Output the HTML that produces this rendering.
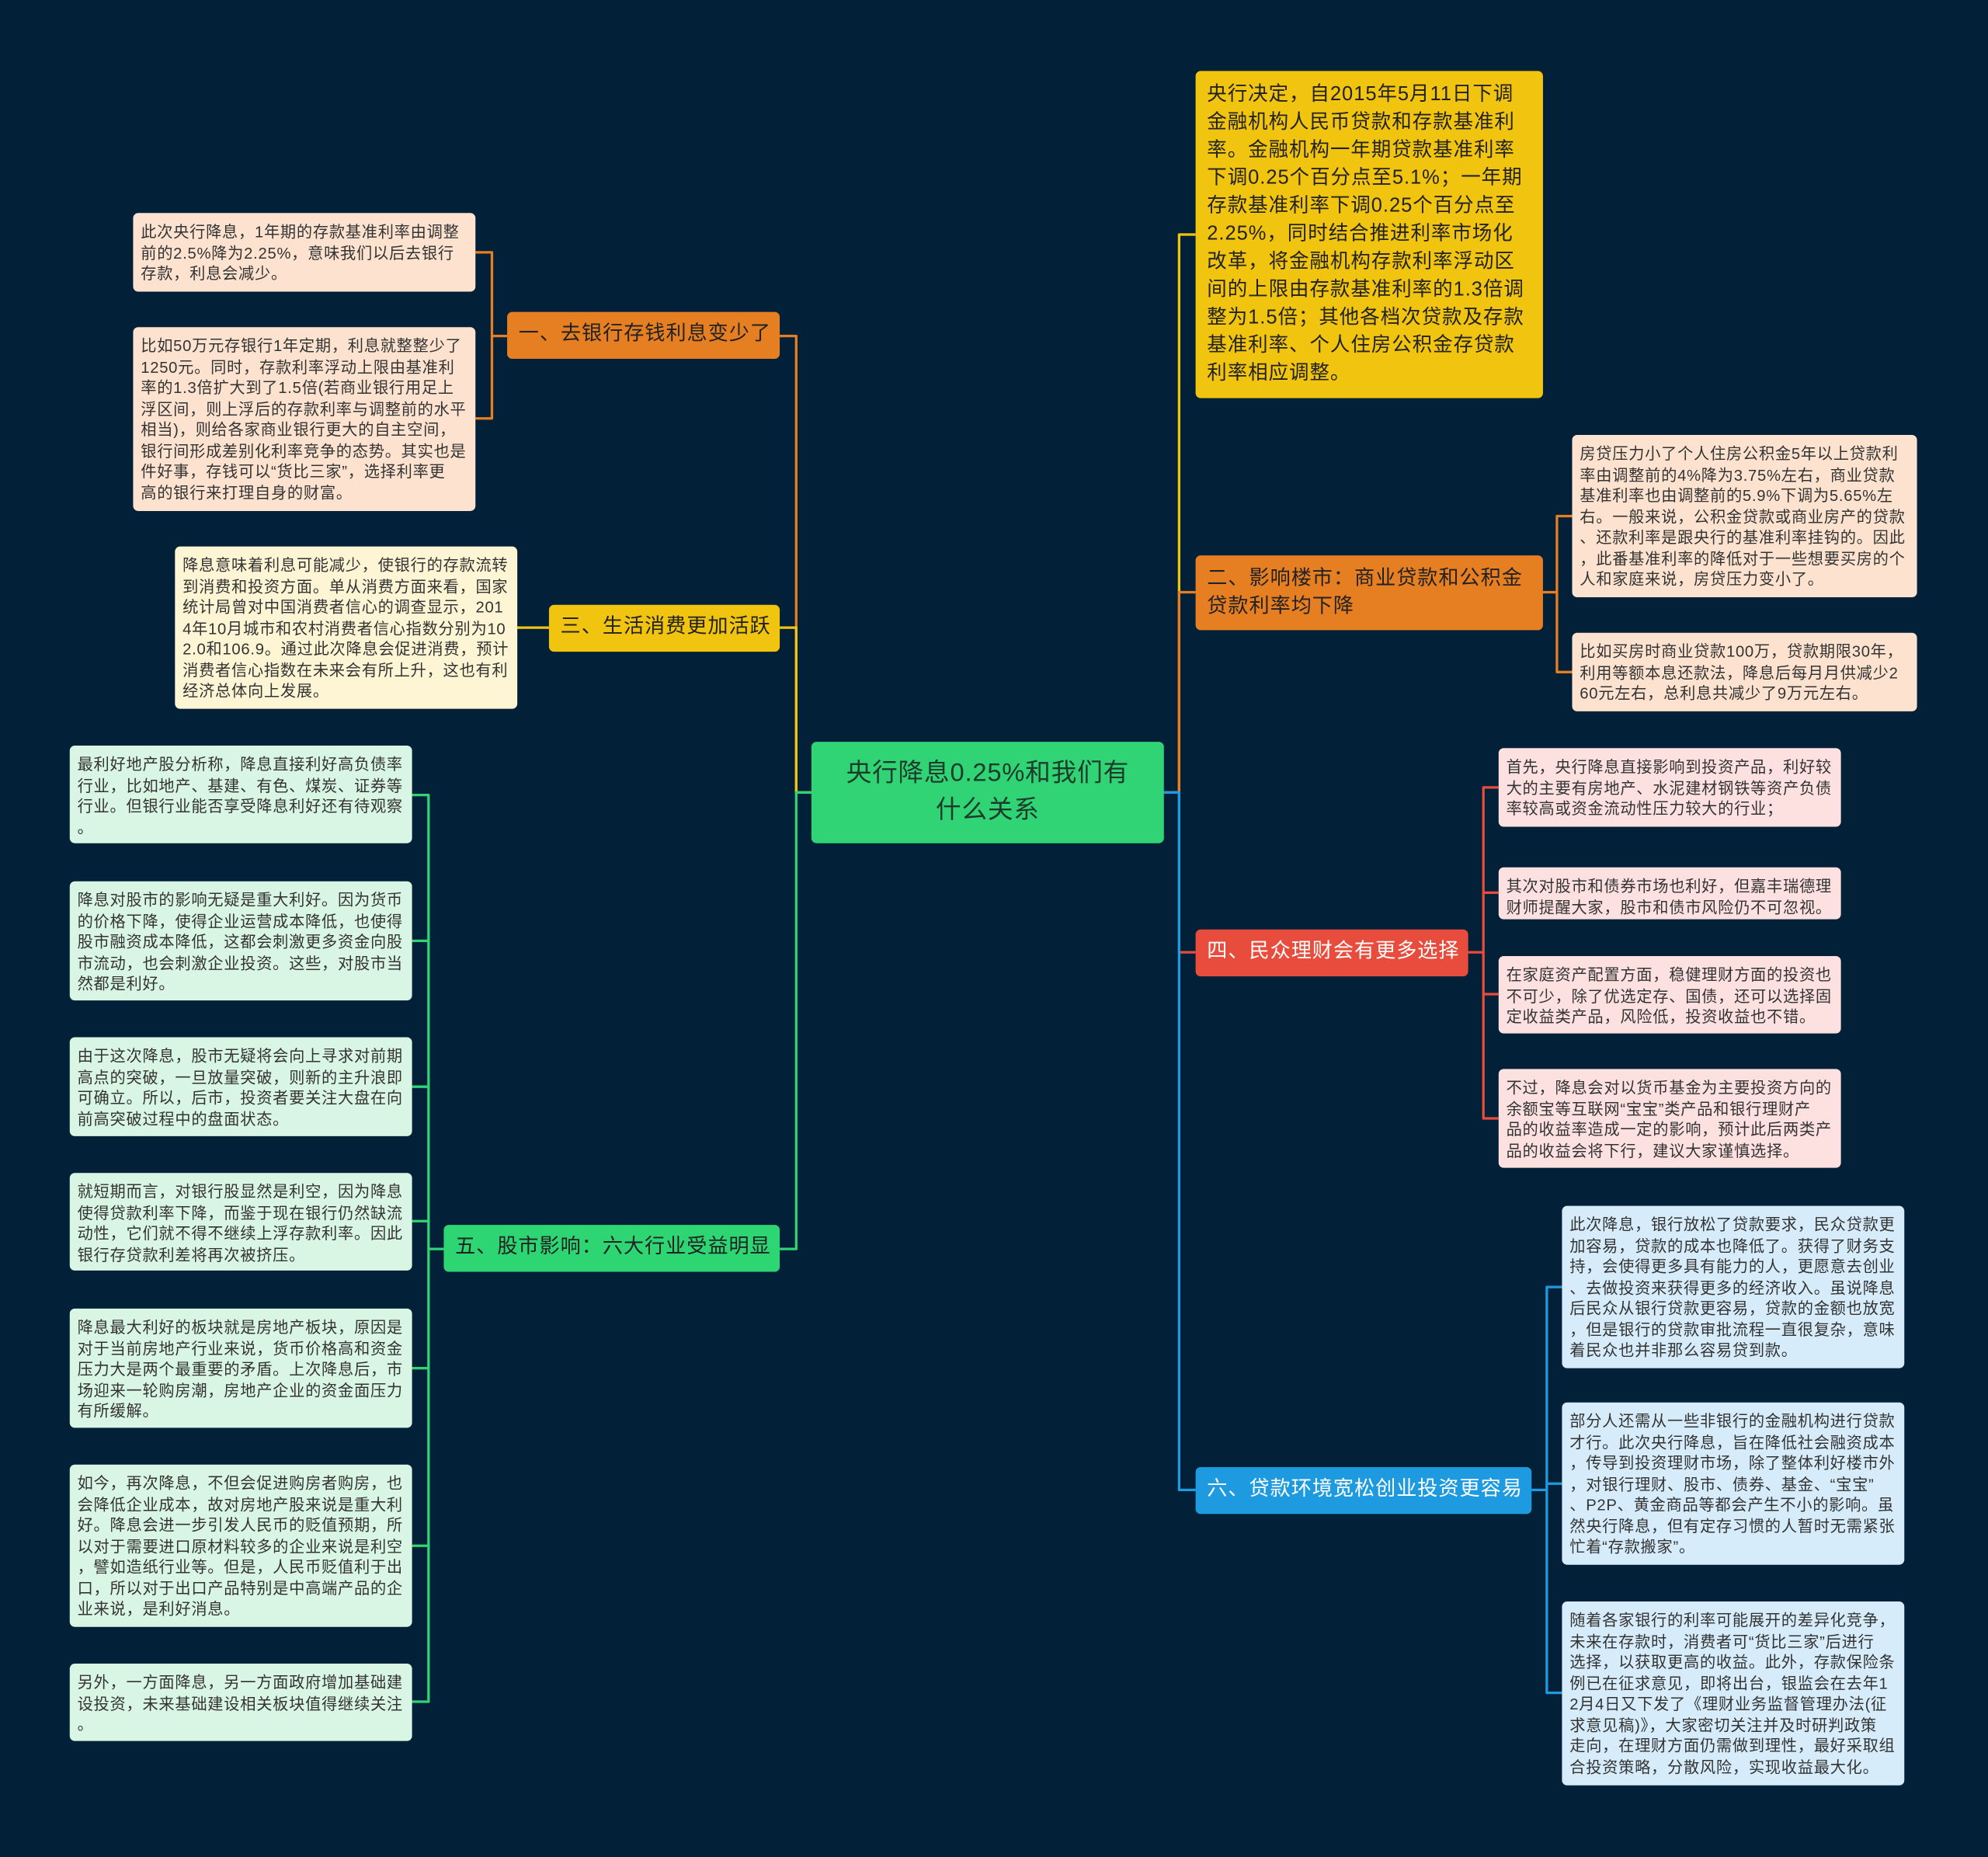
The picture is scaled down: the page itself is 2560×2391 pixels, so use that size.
<!DOCTYPE html>
<html><head><meta charset="utf-8"><style>
html,body{margin:0;padding:0;background:#032039;}
#wrap{position:relative;width:1568px;height:1464px;transform:scale(1.632653);transform-origin:0 0;background:#032039;font-family:"Liberation Sans","Noto Sans CJK SC",sans-serif;}
.b{position:absolute;box-sizing:border-box;border-radius:4px;}
.leaf{font-size:12.4px;line-height:16.5px;color:#333;padding:7px 6px;white-space:nowrap;overflow:hidden;letter-spacing:0.45px;}
.br{font-size:16px;line-height:22px;color:#222;padding:7px 9px;white-space:nowrap;letter-spacing:0.6px;}
svg{position:absolute;left:0;top:0;}
</style></head><body><div id="wrap">
<svg width="1568" height="1464" fill="none" stroke-width="2" stroke-linejoin="round">
<path d="M640 625 H628 V265 H615" stroke="#e67e22"/>
<path d="M640 625 H628 V495 H615" stroke="#f1c40f"/>
<path d="M640 625 H628 V985 H615" stroke="#2ed573"/>
<path d="M918 625 H930 V185 H943" stroke="#f1c40f"/>
<path d="M918 625 H930 V467 H943" stroke="#e67e22"/>
<path d="M918 625 H930 V751 H943" stroke="#e74c3c"/>
<path d="M918 625 H930 V1175 H943" stroke="#1e9be0"/>
<path d="M400 265 H388 V199 H375 M388 265 V330 H375" stroke="#e67e22"/>
<path d="M433 495 H375 H408" stroke="#f1c40f"/>
<path d="M350 985 H338 V627 H325 M338 742 H325 M338 857 H325 M338 963 H325 M338 1079 H325 M338 1219 H325 M338 985 V1342 H325" stroke="#2ed573"/>
<path d="M1217 467 H1228 V407 H1240 M1228 467 V530 H1240" stroke="#e67e22"/>
<path d="M1158 751 H1170 V621 H1182 M1170 704 H1182 M1170 784 H1182 M1170 751 V882 H1182" stroke="#e74c3c"/>
<path d="M1208 1175 H1220 V1015 H1232 M1220 1170 H1232 M1220 1175 V1335 H1232" stroke="#1e9be0"/>
</svg>

<div class="b" style="left:640px;top:585px;width:278px;height:80px;background:#30d475;color:#1d3b2a;font-size:20px;line-height:29px;text-align:center;padding-top:11px;letter-spacing:0.5px;">央行降息0.25%和我们有<br>什么关系</div>

<div class="b br" style="left:400px;top:246px;width:215px;height:37px;background:#e67e22;">一、去银行存钱利息变少了</div>
<div class="b br" style="left:433px;top:477px;width:182px;height:37px;background:#f1c40f;">三、生活消费更加活跃</div>
<div class="b br" style="left:350px;top:966px;width:265px;height:37px;background:#2ed573;">五、股市影响：六大行业受益明显</div>

<div class="b" style="left:943px;top:56px;width:274px;height:258px;background:#f1c40f;color:#222;font-size:15.6px;line-height:22px;padding:8px 9px;white-space:nowrap;letter-spacing:0.6px;">央行决定，自2015年5月11日下调<br>金融机构人民币贷款和存款基准利<br>率。金融机构一年期贷款基准利率<br>下调0.25个百分点至5.1%；一年期<br>存款基准利率下调0.25个百分点至<br>2.25%，同时结合推进利率市场化<br>改革，将金融机构存款利率浮动区<br>间的上限由存款基准利率的1.3倍调<br>整为1.5倍；其他各档次贷款及存款<br>基准利率、个人住房公积金存贷款<br>利率相应调整。</div>
<div class="b br" style="left:943px;top:438px;width:274px;height:59px;background:#e67e22;padding-top:8px;">二、影响楼市：商业贷款和公积金<br>贷款利率均下降</div>
<div class="b br" style="left:943px;top:733px;width:215px;height:37px;background:#e74c3c;color:#fff;">四、民众理财会有更多选择</div>
<div class="b br" style="left:943px;top:1157px;width:265px;height:37px;background:#1e9be0;color:#fff;">六、贷款环境宽松创业投资更容易</div>

<div class="b leaf" style="left:105px;top:168px;width:270px;height:62px;background:#fde3cf;">此次央行降息，1年期的存款基准利率由调整<br>前的2.5%降为2.25%，意味我们以后去银行<br>存款，利息会减少。</div>
<div class="b leaf" style="left:105px;top:258px;width:270px;height:145px;background:#fde3cf;">比如50万元存银行1年定期，利息就整整少了<br>1250元。同时，存款利率浮动上限由基准利<br>率的1.3倍扩大到了1.5倍(若商业银行用足上<br>浮区间，则上浮后的存款利率与调整前的水平<br>相当)，则给各家商业银行更大的自主空间，<br>银行间形成差别化利率竞争的态势。其实也是<br>件好事，存钱可以“货比三家”，选择利率更<br>高的银行来打理自身的财富。</div>
<div class="b leaf" style="left:138px;top:431px;width:270px;height:128px;background:#fef5d4;">降息意味着利息可能减少，使银行的存款流转<br>到消费和投资方面。单从消费方面来看，国家<br>统计局曾对中国消费者信心的调查显示，201<br>4年10月城市和农村消费者信心指数分别为10<br>2.0和106.9。通过此次降息会促进消费，预计<br>消费者信心指数在未来会有所上升，这也有利<br>经济总体向上发展。</div>

<div class="b leaf" style="left:55px;top:588px;width:270px;height:77px;background:#d9f5e3;">最利好地产股分析称，降息直接利好高负债率<br>行业，比如地产、基建、有色、煤炭、证券等<br>行业。但银行业能否享受降息利好还有待观察<br>。</div>
<div class="b leaf" style="left:55px;top:695px;width:270px;height:94px;background:#d9f5e3;">降息对股市的影响无疑是重大利好。因为货币<br>的价格下降，使得企业运营成本降低，也使得<br>股市融资成本降低，这都会刺激更多资金向股<br>市流动，也会刺激企业投资。这些，对股市当<br>然都是利好。</div>
<div class="b leaf" style="left:55px;top:818px;width:270px;height:78px;background:#d9f5e3;">由于这次降息，股市无疑将会向上寻求对前期<br>高点的突破，一旦放量突破，则新的主升浪即<br>可确立。所以，后市，投资者要关注大盘在向<br>前高突破过程中的盘面状态。</div>
<div class="b leaf" style="left:55px;top:925px;width:270px;height:77px;background:#d9f5e3;">就短期而言，对银行股显然是利空，因为降息<br>使得贷款利率下降，而鉴于现在银行仍然缺流<br>动性，它们就不得不继续上浮存款利率。因此<br>银行存贷款利差将再次被挤压。</div>
<div class="b leaf" style="left:55px;top:1032px;width:270px;height:94px;background:#d9f5e3;">降息最大利好的板块就是房地产板块，原因是<br>对于当前房地产行业来说，货币价格高和资金<br>压力大是两个最重要的矛盾。上次降息后，市<br>场迎来一轮购房潮，房地产企业的资金面压力<br>有所缓解。</div>
<div class="b leaf" style="left:55px;top:1155px;width:270px;height:128px;background:#d9f5e3;">如今，再次降息，不但会促进购房者购房，也<br>会降低企业成本，故对房地产股来说是重大利<br>好。降息会进一步引发人民币的贬值预期，所<br>以对于需要进口原材料较多的企业来说是利空<br>，譬如造纸行业等。但是，人民币贬值利于出<br>口，所以对于出口产品特别是中高端产品的企<br>业来说，是利好消息。</div>
<div class="b leaf" style="left:55px;top:1312px;width:270px;height:61px;background:#d9f5e3;">另外，一方面降息，另一方面政府增加基础建<br>设投资，未来基础建设相关板块值得继续关注<br>。</div>

<div class="b leaf" style="left:1240px;top:343px;width:272px;height:128px;background:#fde3cf;">房贷压力小了个人住房公积金5年以上贷款利<br>率由调整前的4%降为3.75%左右，商业贷款<br>基准利率也由调整前的5.9%下调为5.65%左<br>右。一般来说，公积金贷款或商业房产的贷款<br>、还款利率是跟央行的基准利率挂钩的。因此<br>，此番基准利率的降低对于一些想要买房的个<br>人和家庭来说，房贷压力变小了。</div>
<div class="b leaf" style="left:1240px;top:499px;width:272px;height:62px;background:#fde3cf;">比如买房时商业贷款100万，贷款期限30年，<br>利用等额本息还款法，降息后每月月供减少2<br>60元左右，总利息共减少了9万元左右。</div>

<div class="b leaf" style="left:1182px;top:590px;width:270px;height:62px;background:#fde0e0;">首先，央行降息直接影响到投资产品，利好较<br>大的主要有房地产、水泥建材钢铁等资产负债<br>率较高或资金流动性压力较大的行业；</div>
<div class="b leaf" style="left:1182px;top:684px;width:270px;height:41px;background:#fde0e0;">其次对股市和债券市场也利好，但嘉丰瑞德理<br>财师提醒大家，股市和债市风险仍不可忽视。</div>
<div class="b leaf" style="left:1182px;top:754px;width:270px;height:61px;background:#fde0e0;">在家庭资产配置方面，稳健理财方面的投资也<br>不可少，除了优选定存、国债，还可以选择固<br>定收益类产品，风险低，投资收益也不错。</div>
<div class="b leaf" style="left:1182px;top:843px;width:270px;height:78px;background:#fde0e0;">不过，降息会对以货币基金为主要投资方向的<br>余额宝等互联网“宝宝”类产品和银行理财产<br>品的收益率造成一定的影响，预计此后两类产<br>品的收益会将下行，建议大家谨慎选择。</div>

<div class="b leaf" style="left:1232px;top:951px;width:270px;height:128px;background:#d6ecfa;">此次降息，银行放松了贷款要求，民众贷款更<br>加容易，贷款的成本也降低了。获得了财务支<br>持，会使得更多具有能力的人，更愿意去创业<br>、去做投资来获得更多的经济收入。虽说降息<br>后民众从银行贷款更容易，贷款的金额也放宽<br>，但是银行的贷款审批流程一直很复杂，意味<br>着民众也并非那么容易贷到款。</div>
<div class="b leaf" style="left:1232px;top:1106px;width:270px;height:128px;background:#d6ecfa;">部分人还需从一些非银行的金融机构进行贷款<br>才行。此次央行降息，旨在降低社会融资成本<br>，传导到投资理财市场，除了整体利好楼市外<br>，对银行理财、股市、债券、基金、“宝宝”<br>、P2P、黄金商品等都会产生不小的影响。虽<br>然央行降息，但有定存习惯的人暂时无需紧张<br>忙着“存款搬家”。</div>
<div class="b leaf" style="left:1232px;top:1263px;width:270px;height:145px;background:#d6ecfa;">随着各家银行的利率可能展开的差异化竞争，<br>未来在存款时，消费者可“货比三家”后进行<br>选择，以获取更高的收益。此外，存款保险条<br>例已在征求意见，即将出台，银监会在去年1<br>2月4日又下发了《理财业务监督管理办法(征<br>求意见稿)》，大家密切关注并及时研判政策<br>走向，在理财方面仍需做到理性，最好采取组<br>合投资策略，分散风险，实现收益最大化。</div>
</div></body></html>
